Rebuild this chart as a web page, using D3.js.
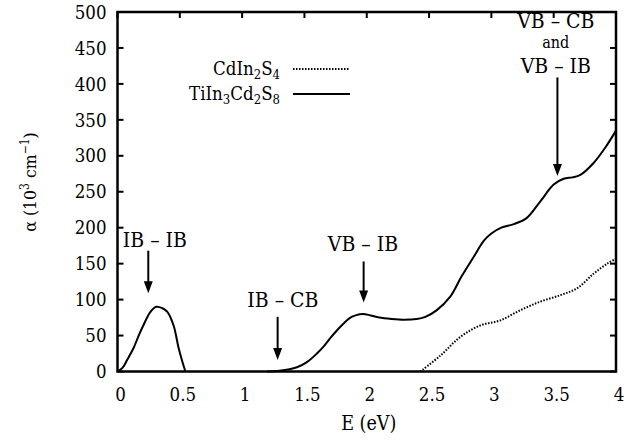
<!DOCTYPE html>
<html>
<head>
<meta charset="utf-8">
<script src="https://cdn.jsdelivr.net/npm/d3@7"></script>
<style>
  body { margin: 0; background: #fff; }
</style>
</head>
<body>
<div id="chart"></div>
<script>
// TiIn3Cd2S8, intraband peak (IB - IB)
const ibEnergy = [0, 0.04, 0.08, 0.13, 0.17, 0.21, 0.26, 0.31, 0.36, 0.40, 0.45, 0.49, 0.52, 0.545];
const ibAlpha  = [0, 5, 17, 33, 50, 65, 82, 90, 88, 83, 64, 33, 14, 0];

// TiIn3Cd2S8, main absorption above 1.2 eV
const tiEnergy = [1.2, 1.3, 1.44, 1.52, 1.6, 1.66, 1.71, 1.76, 1.81, 1.86, 1.91, 1.97, 2.03, 2.1, 2.2, 2.3, 2.4, 2.47, 2.56, 2.67, 2.76, 2.86, 2.94, 3.0, 3.08, 3.18, 3.28, 3.39, 3.50, 3.58, 3.65, 3.71, 3.82, 3.92, 4.0];
const tiAlpha  = [0, 1, 6, 13, 25, 36, 47, 57, 66, 74, 78, 80, 78, 75, 73, 72, 73, 76, 85, 104, 132, 160, 182, 192, 200, 205, 213, 236, 260, 268, 270, 273, 290, 313, 335];

// CdIn2S4
const cdEnergy = [2.43, 2.59, 2.75, 2.91, 3.07, 3.23, 3.39, 3.55, 3.69, 3.82, 3.93, 4.0];
const cdAlpha  = [0, 22, 48, 64, 71, 85, 97, 106, 116, 136, 150, 157];

const xTicks = [0, 0.5, 1, 1.5, 2, 2.5, 3, 3.5, 4];
const yTicks = [0, 50, 100, 150, 200, 250, 300, 350, 400, 450, 500];

// arrows: x position (eV), from alpha top to alpha bottom
const arrowE    = [0.247, 1.285, 1.975, 3.53];
const arrowTop  = [168, 76, 153, 409];
const arrowBot  = [109, 16, 96, 272];
// labels: text, centre E, baseline alpha
const labelText  = ["IB \u2013 IB", "IB \u2013 CB", "VB \u2013 IB", "VB \u2013 CB", "and", "VB \u2013 IB"];
const labelE     = [0.30, 1.327, 1.97, 3.517, 3.517, 3.517];
const labelAlpha = [173, 90, 167, 478, 450, 415];

const W = 637, H = 442;
const margin = { top: 12, right: 21, bottom: 70.5, left: 117.5 };
const width = W - margin.left - margin.right;
const height = H - margin.top - margin.bottom;
const serif = "'DejaVu Serif Condensed', 'DejaVu Serif', serif";

const svg = d3.select("#chart").append("svg")
    .attr("width", W)
    .attr("height", H)
    .style("font-family", serif)
    .style("font-stretch", "condensed");

const g = svg.append("g")
    .attr("transform", `translate(${margin.left},${margin.top})`);

const x = d3.scaleLinear().domain([0, 4]).range([0, width]);
const y = d3.scaleLinear().domain([0, 500]).range([height, 0]);

const tickLen = 6;

// ticks inward: left, right, top
const tickG = g.append("g").attr("stroke", "#000").attr("stroke-width", 2);
yTicks.forEach(t => {
    tickG.append("line").attr("x1", 0).attr("x2", tickLen).attr("y1", y(t)).attr("y2", y(t));
    tickG.append("line").attr("x1", width - tickLen).attr("x2", width).attr("y1", y(t)).attr("y2", y(t));
});
xTicks.forEach(t => {
    tickG.append("line").attr("x1", x(t)).attr("x2", x(t)).attr("y1", 0).attr("y2", tickLen);
});

// tick labels
g.selectAll(".ylab").data(yTicks).enter().append("text")
    .attr("class", "ylab")
    .attr("x", -11)
    .attr("y", d => y(d))
    .attr("dy", "0.36em")
    .attr("text-anchor", "end")
    .style("font-size", "18.5px")
    .text(d => d);

g.selectAll(".xlab").data(xTicks).enter().append("text")
    .attr("class", "xlab")
    .attr("x", d => x(d) + 3)
    .attr("y", height + 29)
    .attr("text-anchor", "middle")
    .style("font-size", "18.5px")
    .text(d => d);

// axis titles
g.append("text")
    .attr("x", x(2) + 2)
    .attr("y", height + 58)
    .attr("text-anchor", "middle")
    .style("font-size", "19.5px")
    .text("E (eV)");

const yt = svg.append("text")
    .attr("transform", "translate(36,182) rotate(-90)")
    .attr("text-anchor", "middle")
    .style("font-size", "17.5px");
yt.append("tspan").text("\u03b1 (10");
yt.append("tspan").attr("dy", -7).style("font-size", "12px").text("3");
yt.append("tspan").attr("dy", 7).text(" cm");
yt.append("tspan").attr("dy", -7).style("font-size", "12px").text("\u22121");
yt.append("tspan").attr("dy", 7).text(")");

// curves
const line = d3.line()
    .x(d => x(d[0]))
    .y(d => y(d[1]))
    .curve(d3.curveCatmullRom.alpha(0.5));

const ibData = ibEnergy.map((e, i) => [e, ibAlpha[i]]);
const tiData = tiEnergy.map((e, i) => [e, tiAlpha[i]]);
const cdData = cdEnergy.map((e, i) => [e, cdAlpha[i]]);

g.append("path").datum(cdData)
    .attr("d", line)
    .attr("fill", "none")
    .attr("stroke", "#000")
    .attr("stroke-width", 2)
    .attr("stroke-dasharray", "1.5,1.5");

[ibData, tiData].forEach(d => {
    g.append("path").datum(d)
        .attr("d", line)
        .attr("fill", "none")
        .attr("stroke", "#000")
        .attr("stroke-width", 2);
});

// frame
g.append("rect")
    .attr("width", width)
    .attr("height", height)
    .attr("fill", "none")
    .attr("stroke", "#000")
    .attr("stroke-width", 2.5);

// arrows
const headLen = 12, headW = 4.5;
arrowE.forEach((e, i) => {
    const ax = x(e), y1 = y(arrowTop[i]), y2 = y(arrowBot[i]);
    g.append("line")
        .attr("x1", ax).attr("x2", ax)
        .attr("y1", y1).attr("y2", y2 - headLen + 1)
        .attr("stroke", "#000").attr("stroke-width", 2);
    g.append("path")
        .attr("d", `M${ax - headW},${y2 - headLen} L${ax + headW},${y2 - headLen} L${ax},${y2} Z`)
        .attr("fill", "#000");
});

g.selectAll(".ann").data(labelText).enter().append("text")
    .attr("class", "ann")
    .attr("x", (d, i) => x(labelE[i]))
    .attr("y", (d, i) => y(labelAlpha[i]))
    .attr("text-anchor", "middle")
    .style("font-size", d => (d === "and" ? 16 : 21) + "px")
    .text(d => d);

// legend
const legend = g.append("g");
const legItems = [
    { parts: [["CdIn", 0], ["2", 1], ["S", 0], ["4", 1]], dash: "1.5,1.5", y: 63 },
    { parts: [["TiIn", 0], ["3", 1], ["Cd", 0], ["2", 1], ["S", 0], ["8", 1]], dash: null, y: 88 }
];
legItems.forEach(item => {
    const t = legend.append("text")
        .attr("x", 280 - margin.left)
        .attr("y", item.y)
        .attr("text-anchor", "end")
        .style("font-size", "18.5px");
    let prevSub = 0;
    item.parts.forEach(p => {
        const shift = (p[1] ? 4 : 0) - (prevSub ? 4 : 0);
        t.append("tspan")
            .attr("dy", shift)
            .style("font-size", p[1] ? "13px" : "18.5px")
            .text(p[0]);
        prevSub = p[1];
    });
    legend.append("line")
        .attr("x1", 293 - margin.left).attr("x2", 350 - margin.left)
        .attr("y1", item.y - 6).attr("y2", item.y - 6)
        .attr("stroke", "#000")
        .attr("stroke-width", 2)
        .attr("stroke-dasharray", item.dash);
});
</script>
</body>
</html>
